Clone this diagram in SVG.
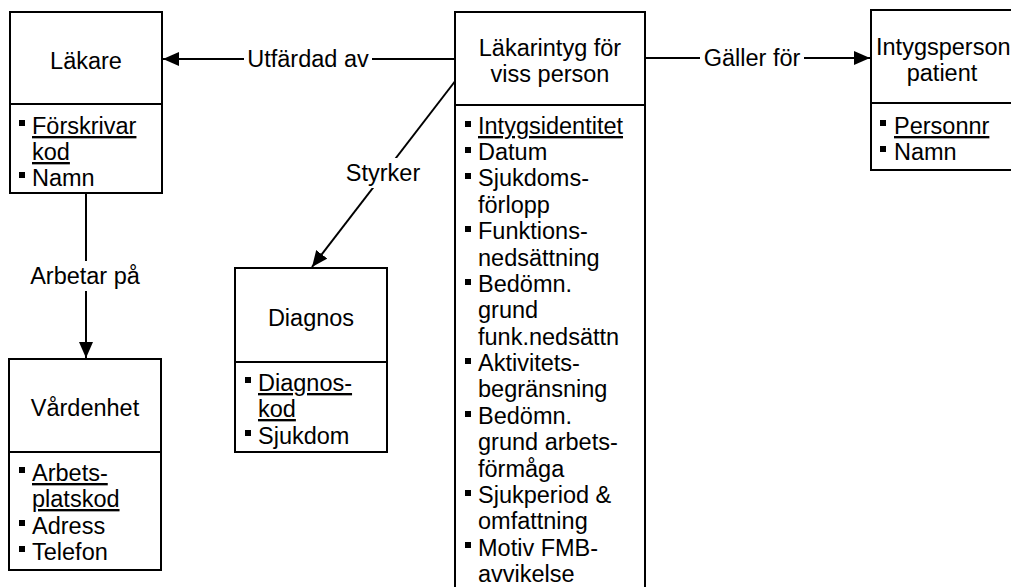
<svg xmlns="http://www.w3.org/2000/svg" width="1011" height="587" viewBox="0 0 1011 587">
  <style>
    .box { fill: #ffffff; stroke: #000000; stroke-width: 2; }
    .t { font-family: "Liberation Sans", Arial, sans-serif; font-size: 23.5px; fill: #000000; }
    .c { text-anchor: middle; }
    .key { text-decoration: underline; }
    .edge { fill: none; stroke: #000000; stroke-width: 2; }
    .lbl { fill: #ffffff; stroke: none; }
  </style>
  <defs>
    <marker id="arrow" viewBox="0 0 16 14" refX="16" refY="7" markerWidth="16" markerHeight="14" markerUnits="userSpaceOnUse" orient="auto">
      <path d="M0,0 L16,7 L0,14 Z" fill="#000000"/>
    </marker>
    <rect id="bul" width="6" height="6" fill="#000000"/>
  </defs>

  <!-- connectors -->
  <g id="connectors">
    <line class="edge" x1="455" y1="59" x2="163" y2="59" marker-end="url(#arrow)"/>
    <rect class="lbl" x="244" y="45" width="128" height="28"/>
    <text class="t c" x="308" y="67">Utfärdad av</text>

    <line class="edge" x1="645" y1="58" x2="870" y2="58" marker-end="url(#arrow)"/>
    <rect class="lbl" x="700" y="44" width="104" height="28"/>
    <text class="t c" x="752" y="66">Gäller för</text>

    <line class="edge" x1="456" y1="80" x2="312" y2="267" marker-end="url(#arrow)"/>
    <rect class="lbl" x="342" y="158" width="82" height="30"/>
    <text class="t c" x="383" y="181">Styrker</text>

    <line class="edge" x1="86" y1="193" x2="86" y2="358" marker-end="url(#arrow)"/>
    <rect class="lbl" x="26" y="261" width="120" height="30"/>
    <text class="t c" x="85" y="284">Arbetar på</text>
  </g>

  <!-- Läkare -->
  <g id="lakare">
    <rect class="box" x="10" y="12" width="152" height="92"/>
    <rect class="box" x="10" y="104" width="152" height="89"/>
    <text class="t c" x="86" y="69">Läkare</text>
    <use href="#bul" x="19" y="120"/>
    <text class="t key" x="32" y="134">Förskrivar</text>
    <text class="t key" x="32" y="160">kod</text>
    <use href="#bul" x="19" y="172"/>
    <text class="t" x="32" y="186">Namn</text>
  </g>

  <!-- Läkarintyg för viss person -->
  <g id="lakarintyg">
    <rect class="box" x="455" y="12" width="190" height="93"/>
    <rect class="box" x="455" y="105" width="190" height="500"/>
    <text class="t c" x="550" y="56">Läkarintyg för</text>
    <text class="t c" x="550" y="82">viss person</text>
    <g>
      <use href="#bul" x="465" y="121"/>
      <text class="t key" x="478" y="134">Intygsidentitet</text>
      <use href="#bul" x="465" y="147"/>
      <text class="t" x="478" y="160">Datum</text>
      <use href="#bul" x="465" y="173"/>
      <text class="t" x="478" y="186">Sjukdoms-</text>
      <text class="t" x="478" y="213">förlopp</text>
      <use href="#bul" x="465" y="226"/>
      <text class="t" x="478" y="239">Funktions-</text>
      <text class="t" x="478" y="266">nedsättning</text>
      <use href="#bul" x="465" y="279"/>
      <text class="t" x="478" y="292">Bedömn.</text>
      <text class="t" x="478" y="318">grund</text>
      <text class="t" x="478" y="345">funk.nedsättn</text>
      <use href="#bul" x="465" y="358"/>
      <text class="t" x="478" y="371">Aktivitets-</text>
      <text class="t" x="478" y="397">begränsning</text>
      <use href="#bul" x="465" y="411"/>
      <text class="t" x="478" y="424">Bedömn.</text>
      <text class="t" x="478" y="450">grund arbets-</text>
      <text class="t" x="478" y="477">förmåga</text>
      <use href="#bul" x="465" y="490"/>
      <text class="t" x="478" y="503">Sjukperiod &amp;</text>
      <text class="t" x="478" y="529">omfattning</text>
      <use href="#bul" x="465" y="542"/>
      <text class="t" x="478" y="556">Motiv FMB-</text>
      <text class="t" x="478" y="582">avvikelse</text>
    </g>
  </g>

  <!-- Intygsperson / patient -->
  <g id="intygsperson">
    <rect class="box" x="871" y="10" width="150" height="93"/>
    <rect class="box" x="871" y="103" width="150" height="67"/>
    <text class="t" x="876" y="55">Intygsperson</text>
    <text class="t c" x="942" y="81">patient</text>
    <use href="#bul" x="880" y="120"/>
    <text class="t key" x="894" y="134">Personnr</text>
    <use href="#bul" x="880" y="146"/>
    <text class="t" x="894" y="160">Namn</text>
  </g>

  <!-- Diagnos -->
  <g id="diagnos">
    <rect class="box" x="235" y="268" width="152" height="94"/>
    <rect class="box" x="235" y="362" width="152" height="90"/>
    <text class="t c" x="311" y="326">Diagnos</text>
    <use href="#bul" x="245" y="377"/>
    <text class="t key" x="258" y="391">Diagnos-</text>
    <text class="t key" x="258" y="417">kod</text>
    <use href="#bul" x="245" y="430"/>
    <text class="t" x="258" y="444">Sjukdom</text>
  </g>

  <!-- Vårdenhet -->
  <g id="vardenhet">
    <rect class="box" x="9" y="359" width="152" height="93"/>
    <rect class="box" x="9" y="452" width="152" height="118"/>
    <text class="t c" x="85" y="416">Vårdenhet</text>
    <use href="#bul" x="19" y="467"/>
    <text class="t key" x="32" y="481">Arbets-</text>
    <text class="t key" x="32" y="507">platskod</text>
    <use href="#bul" x="19" y="520"/>
    <text class="t" x="32" y="534">Adress</text>
    <use href="#bul" x="19" y="546"/>
    <text class="t" x="32" y="560">Telefon</text>
  </g>
</svg>
